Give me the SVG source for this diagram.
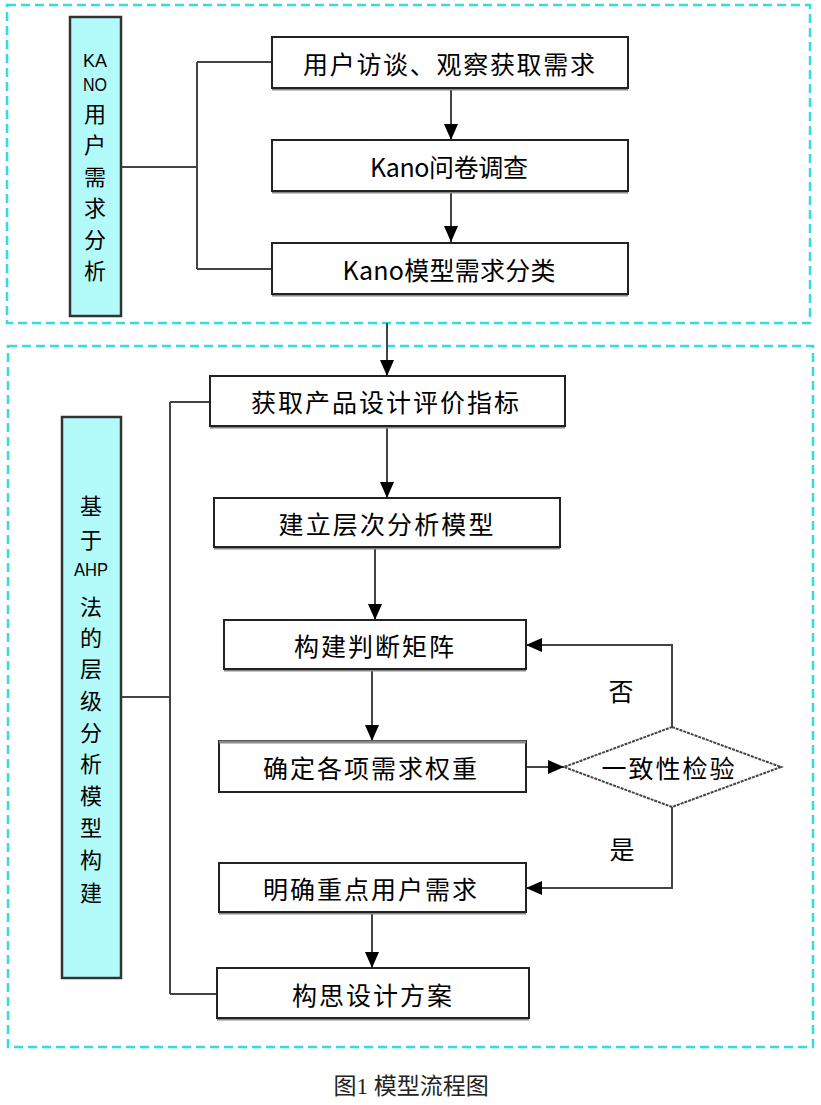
<svg xmlns="http://www.w3.org/2000/svg" width="821" height="1105" viewBox="0 0 821 1105">
<defs>
<marker id="ah" markerUnits="userSpaceOnUse" markerWidth="16" markerHeight="14" viewBox="0 0 16 14" refX="16" refY="7" orient="auto">
<path d="M0,0 L16,7 L0,14 z" fill="#000"/>
</marker>
<style>
.frame{fill:none;stroke:#33dddd;stroke-width:2.5;stroke-dasharray:9 5}
.box{fill:#fff;stroke:#222;stroke-width:2}
.shadow{fill:none;stroke:#888;stroke-width:3}
.side{fill:#b3fbfb;stroke:#333;stroke-width:2.5}
.t{font-family:"Noto Sans CJK SC","Noto Sans",sans-serif;font-size:25px;fill:#000;text-anchor:middle;dominant-baseline:central}
.vt{font-family:"Noto Sans CJK SC","Noto Sans",sans-serif;font-size:22px;fill:#000;text-anchor:middle;dominant-baseline:central}
.vl{font-family:"Liberation Sans","Noto Sans CJK SC",sans-serif;font-size:18px;fill:#000;text-anchor:middle;dominant-baseline:central}
.c{fill:none;stroke:#444;stroke-width:2}
.cap{font-family:"Liberation Serif","Noto Sans CJK SC",serif;font-size:23px;fill:#222;text-anchor:middle}
</style>
</defs>
<rect width="821" height="1105" fill="#fff"/>

<g id="frames">
<rect class="frame" x="7" y="5" width="803" height="318"/>
<rect class="frame" x="8" y="346" width="805" height="701"/>
</g>

<g id="connectors">
<path class="c" d="M121,167 H197 M197,62 V269 M197,62 H272 M197,269 H272"/>
<path class="c" d="M121,697 H170 M170,402 V994 M170,402 H210 M170,994 H217"/>
<line class="c" x1="451" y1="89" x2="451" y2="140" marker-end="url(#ah)"/>
<line class="c" x1="451" y1="192" x2="451" y2="242" marker-end="url(#ah)"/>
<line class="c" x1="387" y1="323" x2="387" y2="376" marker-end="url(#ah)"/>
<line class="c" x1="387" y1="427" x2="387" y2="498" marker-end="url(#ah)"/>
<line class="c" x1="375" y1="548" x2="375" y2="620" marker-end="url(#ah)"/>
<line class="c" x1="372" y1="670" x2="372" y2="741" marker-end="url(#ah)"/>
<line class="c" x1="526" y1="767" x2="564" y2="767" marker-end="url(#ah)"/>
<path class="c" d="M672,727 V645 H526" marker-end="url(#ah)"/>
<path class="c" d="M672,807 V888 H526" marker-end="url(#ah)"/>
<line class="c" x1="372" y1="913" x2="372" y2="968" marker-end="url(#ah)"/>
<text class="t" x="621" y="690">否</text>
<text class="t" x="622" y="848">是</text>
</g>

<g id="kano-side">
<rect class="side" x="70" y="17" width="51" height="299"/>
<text class="vl" x="95" y="61" textLength="24" lengthAdjust="spacingAndGlyphs">KA</text>
<text class="vl" x="95" y="85" textLength="24" lengthAdjust="spacingAndGlyphs">NO</text>
<text class="vt" x="95" y="112">用</text>
<text class="vt" x="95" y="143">户</text>
<text class="vt" x="95" y="175">需</text>
<text class="vt" x="95" y="206">求</text>
<text class="vt" x="95" y="238">分</text>
<text class="vt" x="95" y="269">析</text>
</g>

<g id="ahp-side">
<rect class="side" x="62" y="417" width="59" height="561"/>
<text class="vt" x="91" y="504">基</text>
<text class="vt" x="91" y="538">于</text>
<text class="vl" x="91" y="570" textLength="34" lengthAdjust="spacingAndGlyphs">AHP</text>
<text class="vt" x="91" y="605">法</text>
<text class="vt" x="91" y="636">的</text>
<text class="vt" x="91" y="667">层</text>
<text class="vt" x="91" y="699">级</text>
<text class="vt" x="91" y="731">分</text>
<text class="vt" x="91" y="762">析</text>
<text class="vt" x="91" y="794">模</text>
<text class="vt" x="91" y="826">型</text>
<text class="vt" x="91" y="858">构</text>
<text class="vt" x="91" y="891">建</text>
</g>

<g id="n1">
<line class="shadow" x1="272" y1="89" x2="628" y2="89"/>
<rect class="box" x="272" y="37" width="356" height="51"/>
<text class="t" x="449" y="63" textLength="292" lengthAdjust="spacing">用户访谈、观察获取需求</text>
</g>
<g id="n2">
<line class="shadow" x1="272" y1="192" x2="628" y2="192"/>
<rect class="box" x="272" y="140" width="356" height="51"/>
<text class="t" x="449" y="166" textLength="158" lengthAdjust="spacing">Kano问卷调查</text>
</g>
<g id="n3">
<line class="shadow" x1="272" y1="295" x2="628" y2="295"/>
<rect class="box" x="272" y="243" width="356" height="51"/>
<text class="t" x="449" y="269" textLength="213" lengthAdjust="spacing">Kano模型需求分类</text>
</g>

<g id="n4">
<line class="shadow" x1="210" y1="427" x2="565" y2="427"/>
<rect class="box" x="210" y="376" width="355" height="50"/>
<text class="t" x="385" y="401" textLength="268" lengthAdjust="spacing">获取产品设计评价指标</text>
</g>
<g id="n5">
<line class="shadow" x1="214" y1="548" x2="560" y2="548"/>
<rect class="box" x="214" y="498" width="346" height="49"/>
<text class="t" x="386" y="523" textLength="215" lengthAdjust="spacing">建立层次分析模型</text>
</g>
<g id="n6">
<line class="shadow" x1="224" y1="670" x2="526" y2="670"/>
<rect class="box" x="224" y="620" width="302" height="49"/>
<text class="t" x="374" y="645" textLength="160" lengthAdjust="spacing">构建判断矩阵</text>
</g>
<g id="n7">
<rect class="box" x="219" y="741" width="307" height="51"/>
<line class="shadow" x1="219" y1="742" x2="526" y2="742"/>
<text class="t" x="370" y="767" textLength="214" lengthAdjust="spacing">确定各项需求权重</text>
</g>
<g id="n8">
<line class="shadow" x1="219" y1="913" x2="526" y2="913"/>
<rect class="box" x="219" y="863" width="307" height="49"/>
<text class="t" x="370" y="888" textLength="214" lengthAdjust="spacing">明确重点用户需求</text>
</g>
<g id="n9">
<line class="shadow" x1="217" y1="1019" x2="529" y2="1019"/>
<rect class="box" x="217" y="968" width="312" height="50"/>
<text class="t" x="372" y="994" textLength="160" lengthAdjust="spacing">构思设计方案</text>
</g>

<g id="check">
<polygon points="672,727 781,767 672,807 564,767" fill="#fff" stroke="#444" stroke-width="2" stroke-dasharray="3 1"/>
<text class="t" x="668" y="767" textLength="133" lengthAdjust="spacing">一致性检验</text>
</g>

<text class="cap" x="411" y="1094">图1 模型流程图</text>
</svg>
